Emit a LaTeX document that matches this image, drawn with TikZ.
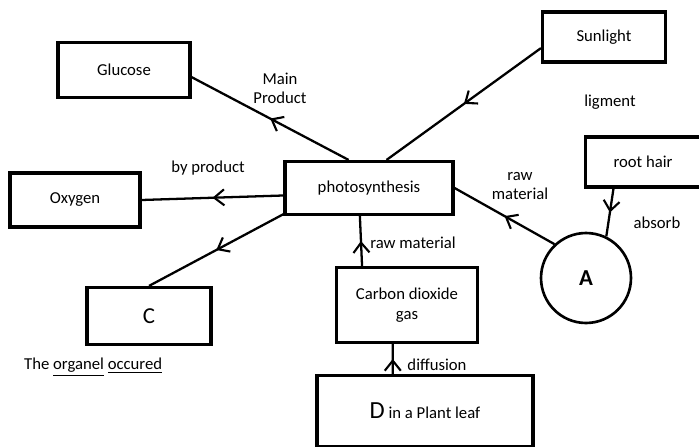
\documentclass[tikz,border=0pt]{standalone}
\usepackage{fontspec}
\setmainfont{Carlito}
\usetikzlibrary{arrows.meta,decorations.markings}

\tikzset{
	box/.style={draw, line width=1.8pt, minimum width=#1, inner sep=2pt, font=\fontsize{9.5}{11}\selectfont, align=center},
	lbl/.style={font=\fontsize{9.5}{11}\selectfont, align=center},
	midarrow/.style={line width=1.3pt, decoration={markings, mark=at position 0.5 with {\arrow{Straight Barb[length=2mm,width=3.2mm,line width=1.2pt]}}}, postaction={decorate}}
}

\begin{document}
\begin{tikzpicture}[x=0.02cm,y=-0.02cm]
	\useasboundingbox (0,0) rectangle (699,446);

	\node[box=2.64cm, minimum height=1.1cm] (glu) at (124,70) {Glucose};
	\node[box=2.46cm, minimum height=1.0cm] (sun) at (604,37) {Sunlight};
	\node[box=2.6cm, minimum height=1.08cm] (oxy) at (75,200) {Oxygen};
	\node[box=3.36cm, minimum height=1.06cm] (ps) at (369,188) {photosynthesis};
	\node[box=2.3cm, minimum height=1.0cm] (rh) at (643,162) {root hair};
	\node[box=2.48cm, minimum height=1.14cm, font=\fontsize{13}{15}\selectfont] (c) at (149,316) {C};
	\node[box=2.82cm, minimum height=1.5cm] (co2) at (407,305) {Carbon dioxide\\gas};
	\node[box=4.32cm, minimum height=1.42cm] (d) at (425,411) {{\fontsize{14}{16}\selectfont D} in a Plant leaf};
	\node[draw, circle, line width=1.5pt, minimum size=1.8cm, font=\fontsize{13}{15}\selectfont\bfseries] (a) at (586,278) {A};

	\draw[midarrow] (ps.126) -- (glu.354);
	\draw[midarrow] (sun.190) -- (ps.58);
	\draw[midarrow] (ps.185) -- (oxy.east);
	\draw[midarrow] (ps.197) -- (c.north);
	\draw[midarrow] (a.133) -- (ps.east);
	\draw[midarrow] (rh.222) -- (a.64);
	\draw[midarrow] (co2.139) -- (ps.252);
	\draw[midarrow] (d.131) -- (co2.250);

	\node[lbl] (mainp) at (280,88) {Main\\Product};
	\node[lbl] (byp) at (208,168) {by product};
	\node[lbl] (lig) at (610,102) {ligment};
	\node[lbl] (rawa) at (520,186) {raw\\material};
	\node[lbl] (abs) at (657,223) {absorb};
	\node[lbl] (rawb) at (413,243) {raw material};
	\node[lbl] (dif) at (437,365) {diffusion};
	\node[lbl, anchor=west] (org) at (18,367) {The \underline{organel} \underline{occured}};
\end{tikzpicture}
\end{document}
